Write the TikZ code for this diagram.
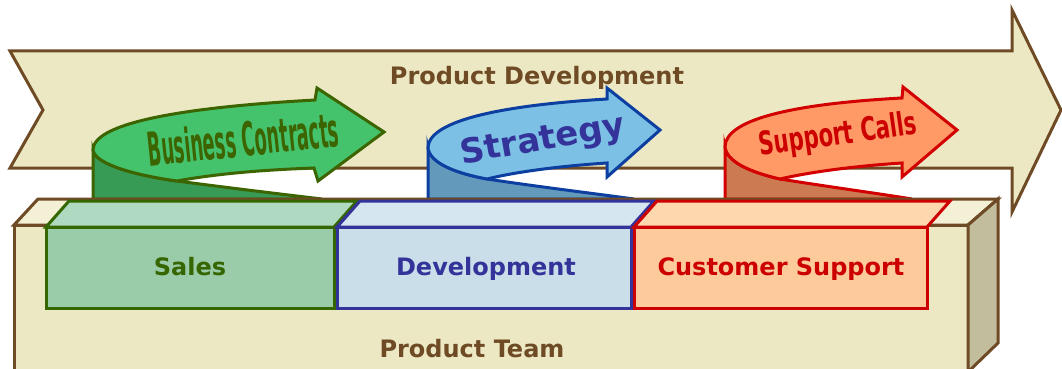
\documentclass[tikz,border=0pt]{standalone}
\usepackage{fontspec}
\setmainfont{DejaVu Sans}

\definecolor{sandfill}{HTML}{EDE8C4}
\definecolor{sandtop}{HTML}{F4F0D6}
\definecolor{sandside}{HTML}{C1BD9D}
\definecolor{sandline}{HTML}{6E4B25}
\definecolor{salesline}{HTML}{356600}
\definecolor{salesfront}{HTML}{9BCCA9}
\definecolor{salestop}{HTML}{B0D9C2}
\definecolor{devline}{HTML}{333399}
\definecolor{devfront}{HTML}{C9DEE9}
\definecolor{devtop}{HTML}{D6E6F0}
\definecolor{suppline}{HTML}{CC0000}
\definecolor{suppfront}{HTML}{FDCB9B}
\definecolor{supptop}{HTML}{FDD7AD}
\definecolor{contractfill}{HTML}{45C26C}
\definecolor{contractback}{HTML}{379A55}
\definecolor{contractline}{HTML}{3C6400}
\definecolor{strategyfill}{HTML}{7CC0E6}
\definecolor{strategyback}{HTML}{6399BA}
\definecolor{strategyline}{HTML}{0C3FA0}
\definecolor{callsfill}{HTML}{FF9966}
\definecolor{callsback}{HTML}{CC7A52}
\definecolor{callsline}{HTML}{D20000}

\begin{document}
\begin{tikzpicture}[x=1pt, y=-1pt, line width=3pt,
                    frame/.style={draw=sandline},
                    label/.style={font=\fontsize{24}{28}\selectfont\bfseries, anchor=base},
                    curl label/.style={font=\fontsize{24}{28}\selectfont\bfseries, inner sep=0pt}]

  \useasboundingbox (0,0) rectangle (1062,369);
  \clip (0,0) rectangle (1062,369);

  % long arrow in the back
  \draw[frame, fill=sandfill] (10,51) -- (1012,51) -- (1012,10) -- (1061,110) -- (1012,212)
    -- (1012,168) -- (10,168) -- (43,110) -- cycle;
  \node[label, text=sandline] (pdev) at (537,84) {Product Development};

  % curled arrows
  \draw[draw=contractline, fill=contractback] (93,199) -- (93,150)
    .. controls (95,165) and (140,176) .. (177,181)
    .. controls (230,188) and (280,194) .. (322,199) -- cycle;
  \draw[draw=contractline, fill=contractfill] (93,150)
    .. controls (93,125) and (170,108) .. (315,100) -- (317,88) -- (384,132) -- (318,181)
    -- (314,168) .. controls (260,170) and (215,174) .. (177,181)
    .. controls (140,176) and (95,165) .. cycle;
  \node[curl label, text=contractline, rotate=6, xscale=0.74, yscale=1.95] (contracts) at (243,139) {Business Contracts};

  \draw[draw=strategyline, fill=strategyback] (428,199) -- (428,148)
    .. controls (430,163) and (455,173) .. (487,179)
    .. controls (540,187) and (590,193) .. (634,199) -- cycle;
  \draw[draw=strategyline, fill=strategyfill] (428,148)
    .. controls (428,123) and (490,106) .. (607,99) -- (607,88) -- (660,130) -- (607,177)
    -- (607,163) .. controls (560,166) and (515,172) .. (487,179)
    .. controls (455,173) and (430,163) .. cycle;
  \node[curl label, text=devline, font=\fontsize{34}{38}\selectfont\bfseries, rotate=10] (strategy) at (543,141) {Strategy};

  \draw[draw=callsline, fill=callsback] (725,199) -- (725,147)
    .. controls (727,162) and (750,172) .. (780,179)
    .. controls (830,187) and (875,193) .. (912,199) -- cycle;
  \draw[draw=callsline, fill=callsfill] (725,147)
    .. controls (725,120) and (790,104) .. (902,98) -- (903,87) -- (957,130) -- (902,177)
    -- (902,163) .. controls (855,166) and (810,172) .. (780,179)
    .. controls (750,172) and (727,162) .. cycle;
  \node[curl label, text=suppline, rotate=8, xscale=0.88, yscale=1.35] (calls) at (838,136) {Support Calls};

  % team box
  \draw[frame, fill=sandfill] (14,380) -- (14,225) -- (968,225) -- (968,380);
  \draw[frame, fill=sandtop] (14,225) -- (38,199) -- (998,199) -- (968,225) -- cycle;
  \draw[frame, fill=sandside] (968,225) -- (998,199) -- (998,343) -- (968,372) -- cycle;
  \node[label, text=sandline] (team) at (472,357) {Product Team};

  % departments
  \draw[draw=salesline, fill=salestop] (46,227) -- (69,201) -- (357,201) -- (334,227) -- cycle;
  \draw[draw=salesline, fill=salesfront] (46,227) rectangle (334,308);
  \node[label, text=salesline] (sales) at (190,275) {Sales};

  \draw[draw=devline, fill=devtop] (337,227) -- (360,201) -- (654,201) -- (631,227) -- cycle;
  \draw[draw=devline, fill=devfront] (337,227) rectangle (631,308);
  \node[label, text=devline] (dev) at (486,275) {Development};

  \draw[draw=suppline, fill=supptop] (634,227) -- (657,201) -- (950,201) -- (927,227) -- cycle;
  \draw[draw=suppline, fill=suppfront] (634,227) rectangle (927,308);
  \node[label, text=suppline] (support) at (781,275) {Customer Support};

\end{tikzpicture}
\end{document}
